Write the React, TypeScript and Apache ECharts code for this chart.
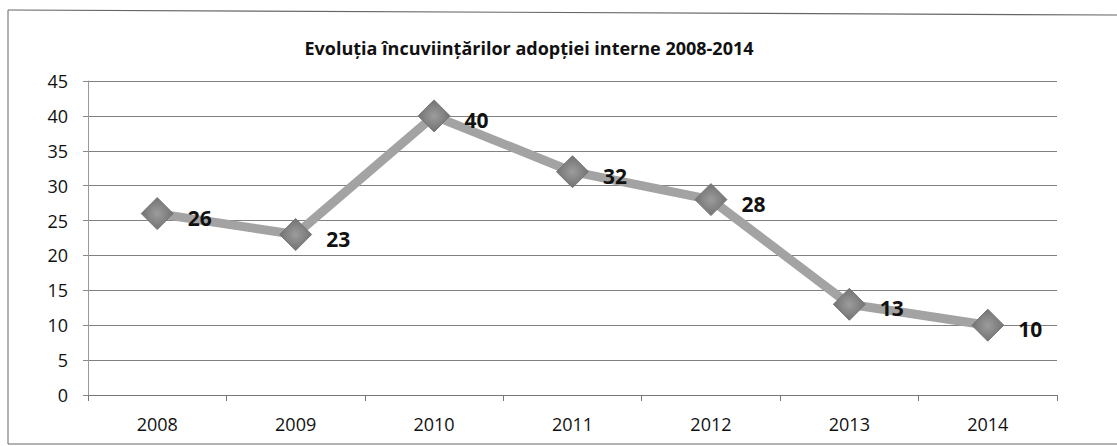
import React, { useEffect, useRef } from "react";
import * as echarts from "echarts";

const title = "Evoluția încuviințărilor adopției interne 2008-2014";
const years = ["2008", "2009", "2010", "2011", "2012", "2013", "2014"];
const values = [26, 23, 40, 32, 28, 13, 10];
const yTicks = { min: 0, max: 45, interval: 5 };

export default function App() {
  const ref = useRef<HTMLDivElement>(null);
  useEffect(() => {
    if (!ref.current) return;
    const chart = echarts.init(ref.current, null, { renderer: "svg" });
    const font = "'Open Sans', 'Noto Sans', sans-serif";
    chart.setOption({
      animation: false,
      backgroundColor: "#ffffff",
      title: {
        text: title,
        left: 524,
        textAlign: "center",
        top: 34,
        textStyle: { fontFamily: font, fontWeight: "bold", fontSize: 18, color: "#111" },
      },
      graphic: [
        {
          type: "line",
          shape: { x1: 8, y1: 10, x2: 1117, y2: 15 },
          style: { stroke: "#666", lineWidth: 1.2 },
        },
        {
          type: "line",
          shape: { x1: 8, y1: 10, x2: 8, y2: 444 },
          style: { stroke: "#666", lineWidth: 1 },
        },
        {
          type: "line",
          shape: { x1: 8, y1: 444, x2: 1117, y2: 444 },
          style: { stroke: "#666", lineWidth: 1 },
        },
      ],
      grid: { left: 88, right: 60, top: 81, bottom: 51, containLabel: false },
      xAxis: {
        type: "category",
        data: years,
        boundaryGap: true,
        axisLine: { show: true, lineStyle: { color: "#777", width: 1 } },
        axisTick: { show: true, length: 6, inside: false, lineStyle: { color: "#777" } },
        axisLabel: { fontFamily: font, fontSize: 18, color: "#111", margin: 20 },
        splitLine: { show: false },
      },
      yAxis: {
        type: "value",
        min: yTicks.min,
        max: yTicks.max,
        interval: yTicks.interval,
        axisLine: { show: true, lineStyle: { color: "#999", width: 1 } },
        axisTick: { show: true, length: 5, lineStyle: { color: "#888" } },
        axisLabel: { fontFamily: font, fontSize: 18, color: "#111", margin: 20 },
        splitLine: { show: true, lineStyle: { color: "#808080", width: 1 } },
      },
      series: [
        {
          type: "line",
          data: values,
          symbol: "diamond",
          symbolSize: [32, 32],
          lineStyle: { color: "#a3a3a3", width: 9 },
          itemStyle: {
            color: {
              type: "radial",
              x: 0.5,
              y: 0.5,
              r: 0.6,
              colorStops: [
                { offset: 0, color: "#9c9c9c" },
                { offset: 1, color: "#6a6a6a" },
              ],
            },
            borderColor: "#777",
            borderWidth: 1,
          },
          label: {
            show: true,
            position: "right",
            distance: 14,
            offset: [0, 4],
            fontFamily: font,
            fontWeight: "bold",
            fontSize: 21,
            color: "#111",
          },
        },
      ],
    });
    return () => chart.dispose();
  }, []);
  return (
    <div
      ref={ref}
      style={{ position: "fixed", left: 0, top: 0, width: 1117, height: 446 }}
    />
  );
}
